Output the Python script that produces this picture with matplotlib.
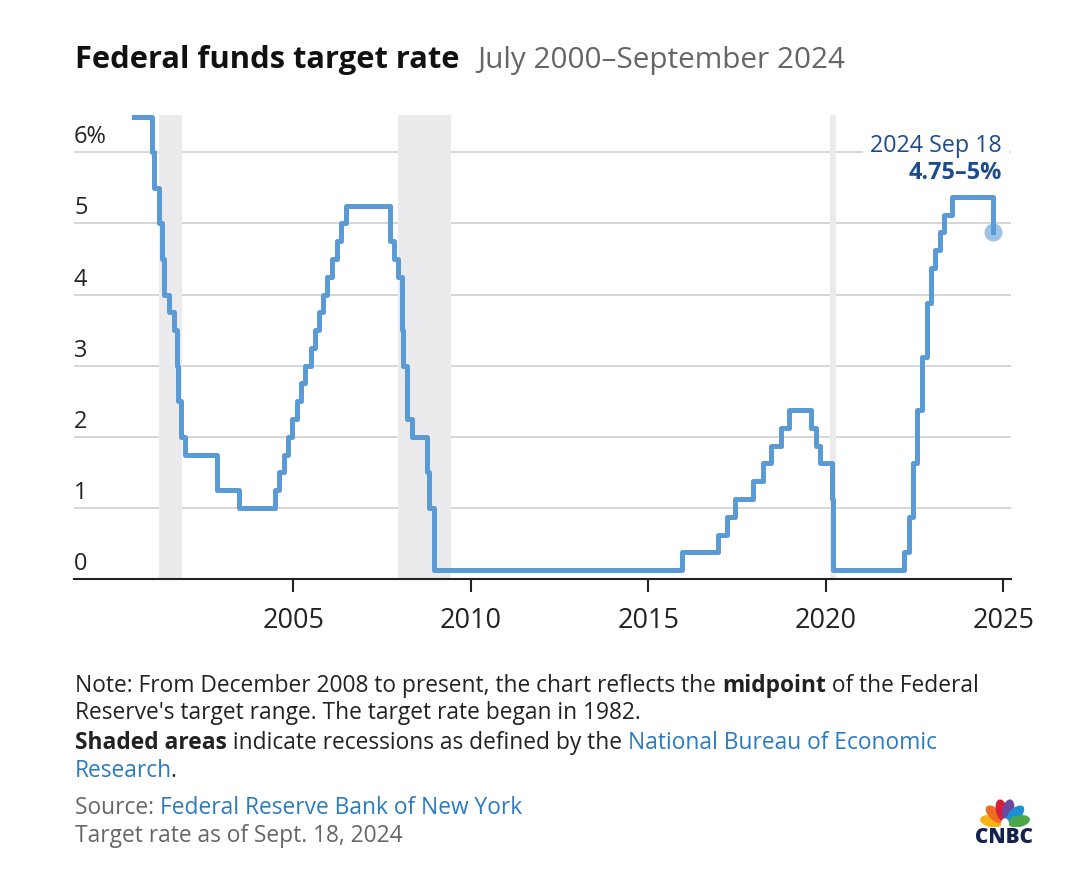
import numpy as np
import matplotlib.pyplot as plt
import matplotlib.dates as mdates
import pandas as pd
from matplotlib.patches import Ellipse

# target rate changes (upper bound before Dec 2008, midpoint after)
change_dates = [
    "2000-07-01", "2001-01-03", "2001-01-31", "2001-03-20", "2001-04-18", "2001-05-15",
    "2001-06-27", "2001-08-21", "2001-09-17", "2001-10-02", "2001-11-06", "2001-12-11",
    "2002-11-06", "2003-06-25", "2004-06-30", "2004-08-10", "2004-09-21", "2004-11-10",
    "2004-12-14", "2005-02-02", "2005-03-22", "2005-05-03", "2005-06-30", "2005-08-09",
    "2005-09-20", "2005-11-01", "2005-12-13", "2006-01-31", "2006-03-28", "2006-05-10",
    "2006-06-29", "2007-09-18", "2007-10-31", "2007-12-11", "2008-01-22", "2008-01-30",
    "2008-03-18", "2008-04-30", "2008-10-08", "2008-10-29", "2008-12-16", "2015-12-16",
    "2016-12-14", "2017-03-15", "2017-06-14", "2017-12-13", "2018-03-21", "2018-06-13",
    "2018-09-26", "2018-12-19", "2019-07-31", "2019-09-18", "2019-10-30", "2020-03-03",
    "2020-03-15", "2022-03-16", "2022-05-04", "2022-06-15", "2022-07-27", "2022-09-21",
    "2022-11-02", "2022-12-14", "2023-02-01", "2023-03-22", "2023-05-03", "2023-07-26",
    "2024-09-18",
]
rates = [
    6.5, 6.0, 5.5, 5.0, 4.5, 4.0,
    3.75, 3.5, 3.0, 2.5, 2.0, 1.75,
    1.25, 1.0, 1.25, 1.5, 1.75, 2.0,
    2.25, 2.5, 2.75, 3.0, 3.25, 3.5,
    3.75, 4.0, 4.25, 4.5, 4.75, 5.0,
    5.25, 4.75, 4.5, 4.25, 3.5, 3.0,
    2.25, 2.0, 1.5, 1.0, 0.125, 0.375,
    0.625, 0.875, 1.125, 1.375, 1.625, 1.875,
    2.125, 2.375, 2.125, 1.875, 1.625, 1.125,
    0.125, 0.375, 0.875, 1.625, 2.375, 3.125,
    3.875, 4.375, 4.625, 4.875, 5.125, 5.375,
    4.875,
]
recessions = [("2001-03-15", "2001-11-15"), ("2007-12-10", "2009-06-05"), ("2020-02-10", "2020-04-10")]
year_ticks = [2005, 2010, 2015, 2020, 2025]
y_ticks = [0, 1, 2, 3, 4, 5, 6]
y_labels = ["0", "1", "2", "3", "4", "5", "6%"]

FONT = "Open Sans"
LINE = "#5b9bd5"
DARK_BLUE = "#1d4c8c"
LINK = "#2b7bc2"
GRAY = "#666666"
TEXT = "#222222"

plt.rcParams["font.family"] = [FONT, "DejaVu Sans"]

W, H = 1080, 886
fig = plt.figure(figsize=(W / 100, H / 100), dpi=100)
renderer = fig.canvas.get_renderer()


def text_width(s, size, weight="normal"):
    t = fig.text(0, 0, s, fontsize=size, fontweight=weight)
    w = t.get_window_extent(renderer).width
    t.remove()
    return w


def advance(s, size, weight="normal"):
    # pen advance of s, measured between two guard glyphs so bearings cancel
    return text_width("|" + s + "|", size, weight) - text_width("||", size, weight)


def fit_size(s, target, weight="normal"):
    return 10 * target / text_width(s, 10, weight)


ax_left, ax_right = 74, 1010.7
ax = fig.add_axes([ax_left / W, 307 / H, (ax_right - ax_left) / W, (579 - 110) / H])

x = mdates.date2num(pd.to_datetime(change_dates))
ax.set_xlim(mdates.date2num(pd.Timestamp("1998-10-27")), mdates.date2num(pd.Timestamp("2025-03-17")))
ax.set_ylim(0, 469 / 71.1)

for start, end in recessions:
    s, e = mdates.date2num(pd.to_datetime([start, end]))
    ax.fill_between([s, e], 0, 6.53, color="#ebebed", lw=0, zorder=1)

for yv in y_ticks[1:]:
    ax.axhline(yv, color="#d0d0d0", lw=1.2, zorder=0)

ax.step(x, rates, where="post", color=LINE, lw=3.6, zorder=3)
ax.plot(x[-1], rates[-1], "o", ms=13, color=LINE, alpha=0.6, mec="none", zorder=4)

ytrans = ax.get_yaxis_transform()
ann_x = (1002 - ax_left) / (ax_right - ax_left)
ax.text(ann_x, 6.0, "2024 Sep 18", transform=ytrans, ha="right", va="baseline",
        fontsize=fit_size("2024 Sep 18", 132), color=DARK_BLUE, zorder=5,
        bbox=dict(boxstyle="square,pad=0.3", fc="white", ec="none"))
ax.text(ann_x, 6.0 - 27 / 71.1, "4.75–5%", transform=ytrans, ha="right", va="baseline",
        fontsize=fit_size("4.75–5%", 93, "bold"), fontweight="bold", color=DARK_BLUE, zorder=5)

ylab_size = fit_size("6%", 33)
for yv, lab in zip(y_ticks, y_labels):
    ax.text(0, yv + 9 / 71.1, lab, transform=ytrans, ha="left", va="baseline",
            fontsize=ylab_size, color=TEXT)

for side in ["top", "right", "left"]:
    ax.spines[side].set_visible(False)
ax.spines["bottom"].set_linewidth(1.5)
ax.spines["bottom"].set_color("#222222")
ax.set_yticks([])
ax.set_xticks(mdates.date2num([pd.Timestamp(f"{y}-01-01") for y in year_ticks]))
ax.set_xticklabels([str(y) for y in year_ticks])
ax.tick_params(axis="x", length=9, width=1.5, color="#222222",
               labelsize=fit_size("2005", 62), labelcolor=TEXT, pad=11)


def rich_line(x0, y0, runs, size):
    """Draw a line made of (text, color, weight) runs; x0, y0 in pixels from top-left."""
    xpos = x0
    for txt, color, weight in runs:
        if txt.startswith("."):
            xpos -= 0.12 * size  # tighten the loose period of Open Sans
        fig.text(xpos / W, (H - y0) / H, txt, fontsize=size, color=color,
                 fontweight=weight, ha="left", va="baseline")
        xpos += advance(txt, size, weight)


def runs_width(runs, size):
    return sum(advance(txt, size, weight) for txt, _, weight in runs)


title = "Federal funds target rate"
fig.text(75 / W, (H - 68) / H, title, fontsize=fit_size(title, 387, "bold"), fontweight="bold",
         color="#111111", ha="left", va="baseline")
subtitle = "July 2000–September 2024"
fig.text(477 / W, (H - 68) / H, subtitle, fontsize=fit_size(subtitle, 368), color=GRAY,
         ha="left", va="baseline")

line1 = [("Note: From December 2008 to present, the chart reflects the ", TEXT, "normal"),
         ("midpoint", TEXT, "bold"), (" of the Federal", TEXT, "normal")]
fs = 10 * 901 / runs_width(line1, 10)
rich_line(75, 692, line1, fs)
rich_line(75, 719, [("Reserve's target range. The target rate began in 1982.", TEXT, "normal")], fs)
rich_line(75, 749, [("Shaded areas", TEXT, "bold"), (" indicate recessions as defined by the ", TEXT, "normal"),
                    ("National Bureau of Economic", LINK, "normal")], fs)
rich_line(75, 777, [("Research", LINK, "normal"), (".", TEXT, "normal")], fs)
rich_line(75, 814, [("Source: ", GRAY, "normal"), ("Federal Reserve Bank of New York", LINK, "normal")], fs)
rich_line(75, 842, [("Target rate as of Sept. 18, 2024", GRAY, "normal")], fs)

# CNBC peacock
logo = fig.add_axes([979 / W, (H - 827) / H, 52 / W, 33 / H], frame_on=False)
logo.set_axis_off()
logo.set_xlim(-1.1, 1.1)
logo.set_ylim(0, 1.4)
feathers = ["#f6b219", "#ef6e23", "#d61f38", "#6e4a9c", "#1c8fd6", "#4aa84a"]
angles = [168, 136, 103, 77, 44, 12]
for c, a in zip(feathers, angles):
    r = np.radians(a)
    logo.add_patch(Ellipse((0.6 * np.cos(r), 0.12 + 0.6 * np.sin(r)), 0.95, 0.5, angle=a,
                           color=c, lw=0))
logo.add_patch(Ellipse((0, 0.12), 0.35, 0.5, color="white", lw=0, zorder=5))
fig.text(1004 / W, (H - 843) / H, "CNBC", fontsize=fit_size("CNBC", 58, "heavy"), fontweight="heavy",
         color="#13224f", ha="center", va="baseline")

fig.savefig("out.png", dpi=100)
